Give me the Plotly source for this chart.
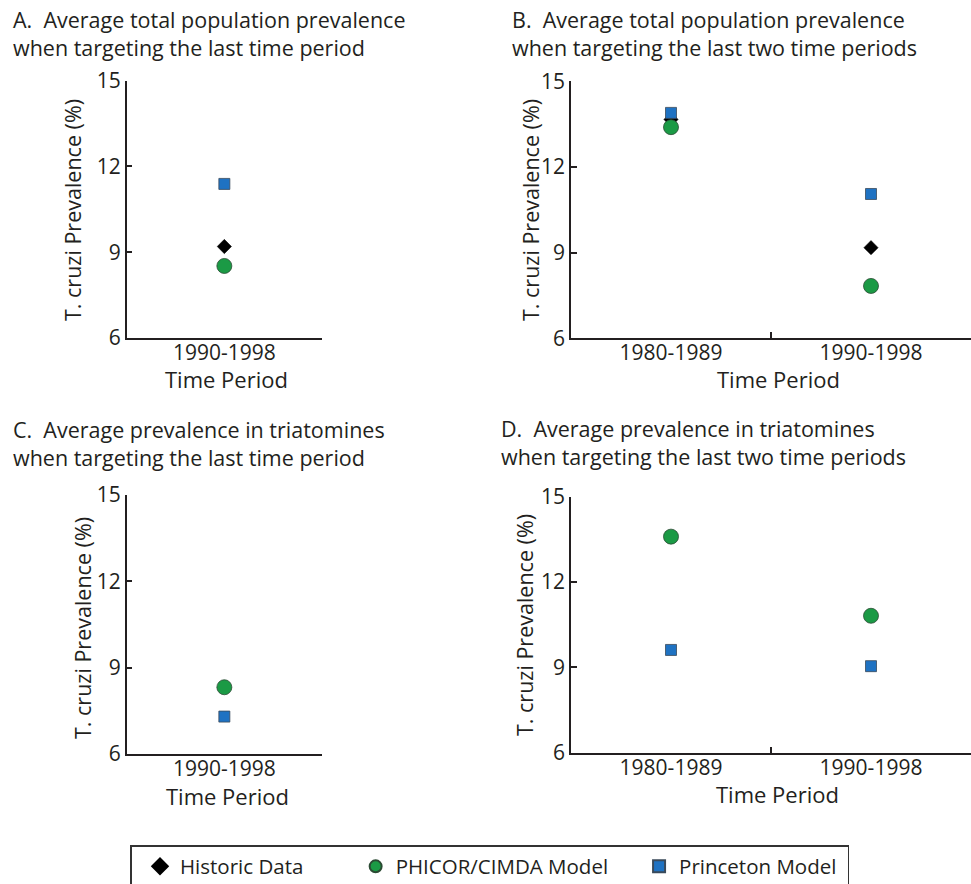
import plotly.graph_objects as go

# ---------------- data ----------------
periods_one = ["1990-1998"]
periods_two = ["1980-1989", "1990-1998"]

A_historic = [9.2]
A_phicor = [8.52]
A_princeton = [11.39]

B_historic = [13.66, 9.17]
B_phicor = [13.39, 7.83]
B_princeton = [13.89, 11.05]

C_phicor = [8.32]
C_princeton = [7.30]

D_phicor = [13.59, 10.81]
D_princeton = [9.61, 9.04]

y_ticks = [6, 9, 12, 15]

series_names = ["Historic Data", "PHICOR/CIMDA Model", "Princeton Model"]

panel_titles = [
    ["A.  Average total population prevalence", "when targeting the last time period"],
    ["B.  Average total population prevalence", "when targeting the last two time periods"],
    ["C.  Average prevalence in triatomines", "when targeting the last time period"],
    ["D.  Average prevalence in triatomines", "when targeting the last two time periods"],
]
y_title = "T. cruzi Prevalence (%)"
x_title = "Time Period"

# ---------------- styles ----------------
W, H = 971, 884
FONT = "Open Sans"
GREEN = "#1b9a45"
BLUE = "#1f72c2"
INK = "#231f20"
NB = "\u00a0"
legend_pad = [7, 3, 1]  # trailing spacing for legend entries (layout only)
legend_labels = [n + NB * p for n, p in zip(series_names, legend_pad)]

hist_marker = dict(symbol="diamond", size=11, color="black", line=dict(color="black", width=0.5))
phicor_marker = dict(symbol="circle", size=15, color=GREEN, line=dict(color="#2b4a33", width=0.8))
prince_marker = dict(symbol="square", size=11, color=BLUE, line=dict(color="#3a4a5a", width=0.8))

fig = go.Figure()

def px_x(p):
    return p / W

def px_y(p):
    return 1 - p / H

dom = {
    "1": ([126.7, 322.0], [80.7, 338.0]),
    "2": ([571.0, 971.0], [81.2, 338.2]),
    "3": ([126.7, 322.0], [495.0, 754.0]),
    "4": ([571.0, 971.0], [496.5, 752.7]),
}

def add(series, xs, marker, idx, ax, show):
    fig.add_trace(go.Scatter(
        x=xs, y=series, mode="markers", marker=marker, name=legend_labels[idx],
        xaxis="x" + ("" if ax == "1" else ax), yaxis="y" + ("" if ax == "1" else ax),
        showlegend=show, legendgroup=series_names[idx],
        hovertemplate=series_names[idx] + ": %{y}<extra></extra>",
    ))

add(A_historic, periods_one, hist_marker, 0, "1", True)
add(A_phicor, periods_one, phicor_marker, 1, "1", True)
add(A_princeton, periods_one, prince_marker, 2, "1", True)

add(B_historic, periods_two, hist_marker, 0, "2", False)
add(B_phicor, periods_two, phicor_marker, 1, "2", False)
add(B_princeton, periods_two, prince_marker, 2, "2", False)

add(C_phicor, periods_one, phicor_marker, 1, "3", False)
add(C_princeton, periods_one, prince_marker, 2, "3", False)

add(D_phicor, periods_two, phicor_marker, 1, "4", False)
add(D_princeton, periods_two, prince_marker, 2, "4", False)

layout = dict(
    width=W, height=H,
    margin=dict(l=0, r=0, t=0, b=0, autoexpand=False),
    paper_bgcolor="white", plot_bgcolor="white",
    font=dict(family=FONT, color=INK, size=18),
    showlegend=True,
    legend=dict(
        orientation="h", x=px_x(130), y=px_y(845), xanchor="left", yanchor="top",
        bordercolor="#333333", borderwidth=1.5, bgcolor="white",
        font=dict(family=FONT, size=20.5, color=INK),
        indentation=10,
        itemsizing="constant",
    ),
)

ncat = {"1": 1, "2": 2, "3": 1, "4": 2}
for k, (xd, yd) in dom.items():
    suffix = "" if k == "1" else k
    layout["xaxis" + suffix] = dict(
        domain=[px_x(xd[0]), px_x(xd[1])],
        anchor="y" + suffix,
        type="category",
        categoryorder="array",
        categoryarray=periods_one if ncat[k] == 1 else periods_two,
        range=[-0.5, ncat[k] - 0.5],
        showline=True, linecolor=INK, linewidth=1.5,
        ticks="inside", tickson="boundaries", ticklen=6, tickwidth=1.5, tickcolor=INK,
        showgrid=False, zeroline=False,
        tickfont=dict(family=FONT, size=21, color=INK),
        ticklabelstandoff=-5,
        fixedrange=True,
    )
    layout["yaxis" + suffix] = dict(
        domain=[px_y(yd[1]), px_y(yd[0])],
        anchor="x" + suffix,
        range=[6, 15], tickvals=y_ticks,
        showline=True, linecolor=INK, linewidth=1.5,
        ticks="inside", ticklen=6, tickwidth=1.5, tickcolor=INK,
        showgrid=False, zeroline=False,
        tickfont=dict(family=FONT, size=21, color=INK),
        fixedrange=True,
    )

fig.update_layout(**layout)

# panel titles (two lines each, placed separately)
title_pos = [(11, 27), (510, 27), (11, 437), (499, 436)]
for lines, (x, base) in zip(panel_titles, title_pos):
    for i, line in enumerate(lines):
        fig.add_annotation(
            text=line, x=px_x(x), y=px_y(base - 8 + 28 * i), xref="paper", yref="paper",
            xanchor="left", yanchor="middle", align="left", showarrow=False,
            font=dict(family=FONT, size=21.5, color=INK),
        )

# y-axis titles
ytitle_pos = [(72, 210), (530, 210), (82, 628), (524, 625)]
for (x, y) in ytitle_pos:
    fig.add_annotation(
        text=y_title, x=px_x(x), y=px_y(y), xref="paper", yref="paper",
        xanchor="center", yanchor="middle", textangle=-90, showarrow=False,
        font=dict(family=FONT, size=21.5, color=INK),
    )

# x-axis titles
xtitle_pos = [(226, 379), (778, 379), (227, 796), (777, 794)]
for (x, y) in xtitle_pos:
    fig.add_annotation(
        text=x_title, x=px_x(x), y=px_y(y), xref="paper", yref="paper",
        xanchor="center", yanchor="middle", showarrow=False,
        font=dict(family=FONT, size=22, color=INK),
    )

fig.write_html(
    "out.html",
    config={"displayModeBar": False},
    post_script="document.body.style.margin='0';document.body.style.overflow='hidden';",
)
